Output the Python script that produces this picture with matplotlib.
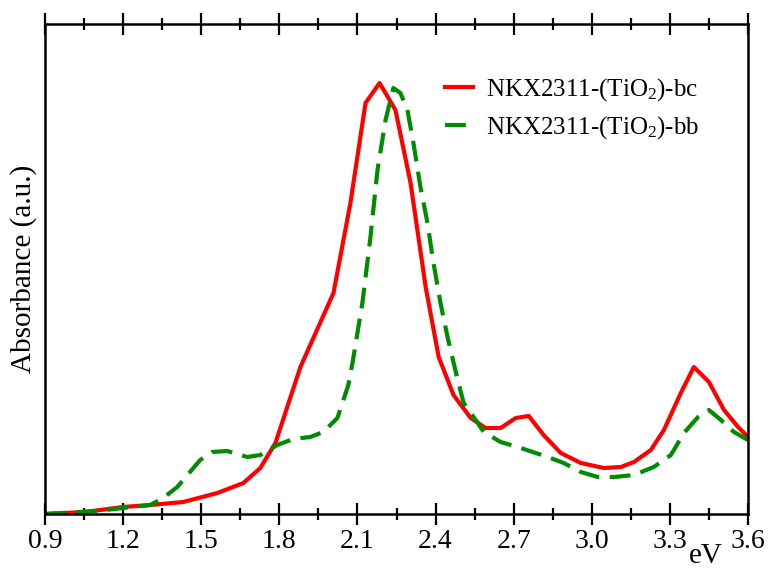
import numpy as np
import matplotlib
matplotlib.use("Agg")
import matplotlib.pyplot as plt
from matplotlib.ticker import MultipleLocator

plt.rcParams['font.family'] = ['Liberation Serif', 'DejaVu Serif']
plt.rcParams['mathtext.fontset'] = 'custom'
plt.rcParams['mathtext.rm'] = 'Liberation Serif'
plt.rcParams['mathtext.it'] = 'Liberation Serif:italic'

# red curve: NKX2311-(TiO2)-bc
ev_bc = [0.9, 1.054, 1.2, 1.304, 1.431, 1.562, 1.662, 1.727, 1.785, 1.881,
         2.008, 2.073, 2.131, 2.185, 2.246, 2.304, 2.362, 2.412, 2.469, 2.535,
         2.592, 2.65, 2.708, 2.758, 2.815, 2.881, 2.958, 3.046, 3.112, 3.162,
         3.227, 3.277, 3.342, 3.392, 3.45, 3.508, 3.562, 3.604]
abs_bc = [0.0, 0.02, 0.07, 0.09, 0.12, 0.21, 0.31, 0.46, 0.71, 1.47,
          2.21, 3.11, 4.11, 4.31, 4.04, 3.31, 2.27, 1.57, 1.19, 0.96,
          0.86, 0.86, 0.96, 0.98, 0.79, 0.61, 0.51, 0.46, 0.47, 0.52,
          0.64, 0.84, 1.21, 1.47, 1.32, 1.04, 0.87, 0.76]

# green curve: NKX2311-(TiO2)-bb
ev_bb = [0.9, 1.1, 1.2, 1.304, 1.354, 1.408, 1.496, 1.542, 1.6, 1.677, 1.727,
         1.792, 1.854, 1.919, 1.969, 2.023, 2.065, 2.081, 2.119, 2.15, 2.177,
         2.208, 2.238, 2.265, 2.292, 2.315, 2.342, 2.369, 2.392, 2.419, 2.446,
         2.485, 2.508, 2.562, 2.585, 2.65, 2.727, 2.831, 2.892, 2.958, 3.023,
         3.085, 3.162, 3.238, 3.304, 3.354, 3.408, 3.45, 3.496, 3.546, 3.6]
abs_bb = [0.0, 0.03, 0.06, 0.09, 0.16, 0.27, 0.54, 0.62, 0.63, 0.57, 0.59,
          0.69, 0.75, 0.77, 0.82, 0.96, 1.29, 1.51, 2.11, 2.77, 3.44,
          3.94, 4.26, 4.21, 4.04, 3.71, 3.27, 2.91, 2.51, 2.11, 1.77,
          1.34, 1.11, 0.91, 0.82, 0.72, 0.66, 0.57, 0.51, 0.42, 0.37,
          0.37, 0.39, 0.47, 0.59, 0.81, 0.97, 1.04, 0.94, 0.82, 0.74]

xticks = [0.9, 1.2, 1.5, 1.8, 2.1, 2.4, 2.7, 3.0, 3.3, 3.6]

fig = plt.figure(figsize=(7.7, 5.68), dpi=100)
ax = fig.add_axes([45/770, 54/568, 703/770, 490/568])

ax.plot(ev_bc, abs_bc, color='#ff0000', lw=3, label='NKX2311-(TiO$_2$)-bc')
ax.plot(ev_bb, abs_bb, color='#008c00', lw=3, dashes=(5, 2.5), label='NKX2311-(TiO$_2$)-bb')

ax.set_xlim(0.9, 3.6)
ax.set_ylim(0, 4.9)
ax.set_xticks(xticks)
ax.set_xticklabels([f'{t:.1f}' for t in xticks])
ax.xaxis.set_minor_locator(MultipleLocator(0.15))
ax.set_yticks([])
ax.tick_params(axis='x', which='major', direction='inout', length=16, width=1.6,
               top=True, labelsize=20, pad=3)
ax.tick_params(axis='x', which='minor', direction='inout', length=8.5, width=1.6, top=True)
for s in ax.spines.values():
    s.set_linewidth(1.8)

ax.set_ylabel('Absorbance (a.u.)', fontsize=21, labelpad=6)
fig.text(706/770, 1 - 556/568, 'eV', fontsize=21, ha='center', va='center')

ax.legend(loc='upper left', bbox_to_anchor=(0.537, 0.94), frameon=False,
          fontsize=18, handlelength=1.12, handletextpad=0.52, labelspacing=0.45)

fig.savefig('out.png', dpi=100)
